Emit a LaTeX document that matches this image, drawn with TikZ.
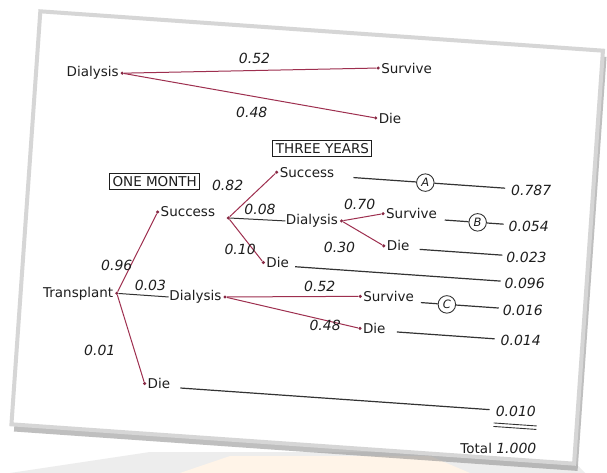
\documentclass[tikz,border=0pt]{standalone}
\usepackage{fontspec}
\setmainfont{DejaVu Sans}
\usetikzlibrary{positioning}
\definecolor{branch}{HTML}{9E2F4F}
\definecolor{outln}{HTML}{333333}
\definecolor{ink}{HTML}{1E1E1E}
\tikzset{
 lbl/.style={font=\fontsize{13.5}{15}\selectfont, text=ink, inner sep=0.5pt},
 num/.style={font=\fontsize{14}{16}\selectfont\itshape, text=ink, inner sep=1pt},
 dotn/.style={circle, fill=branch!85!black, inner sep=0pt, minimum size=3.4pt},
 br/.style={draw=branch, line width=1pt},
 outl/.style={draw=outln, line width=1.2pt},
 boxlbl/.style={draw=ink, line width=1pt, font=\fontsize{13.5}{15}\selectfont, text=ink, inner sep=3pt},
 circ/.style={circle, draw=outln, line width=0.9pt, minimum size=17.5pt, inner sep=0pt, fill=white, font=\fontsize{11.5}{12}\selectfont\itshape, text=ink},
}
\begin{document}
\begin{tikzpicture}[x=1pt,y=-1pt]
\useasboundingbox (0,0) rectangle (607,473);
\fill[white] (0,0) rectangle (607,473);
% things behind the sheet
\fill[gray!14] (10,473) -- (150,452) -- (565,452) -- (585,473) -- cycle;
\fill[orange!9] (180,473) -- (230,456) -- (430,456) -- (470,473) -- cycle;
\begin{scope}[rotate around={-4:(300,240)}]
% sheet
\fill[black!45, opacity=0.55] (28,36) rectangle (593,451);
\filldraw[fill=white, draw=gray!32, line width=4pt] (25,30) rectangle (589,444);

% ---- top tree: dialysis only ----
\node[dotn] (dA) at (111,86) {};
\node[lbl, left=1pt of dA] (tdA) {Dialysis};
\node[dotn] (sA) at (366,63) {};
\node[lbl, right=0.5pt of sA] (tsA) {Survive};
\node[dotn] (xA) at (367,113) {};
\node[lbl, right=0.5pt of xA] (txA) {Die};
\draw[br] (dA) -- (sA);
\draw[br] (dA) -- (xA);
\node[num] (p052a) at (242,62) {0.52};
\node[num] (p048a) at (243,116) {0.48};

% ---- stage boxes ----
\node[boxlbl] (three) at (316,147) {THREE YEARS};
\node[boxlbl] (one) at (151,192) {ONE MONTH};

% ---- transplant tree ----
\node[dotn] (T) at (121,306) {};
\node[lbl, left=1pt of T] (tT) {Transplant};

\node[dotn] (S1) at (156,222) {};
\node[lbl, right=0.5pt of S1] (tS1) {Success};
\node[dotn] (B1) at (227,223) {};
\draw[br] (T) -- (S1);
\node[num] (p096) at (119,278) {0.96};

% after one-month success
\node[dotn] (S3) at (272,174) {};
\node[lbl, right=0.5pt of S3] (tS3) {Success};
\draw[br] (B1) -- (S3);
\node[num] (p082) at (224,191) {0.82};

\node[lbl, anchor=west] (tD2) at (284,222) {Dialysis};
\node[dotn, right=1pt of tD2] (D2) {};
\draw[outl, line width=1pt] (B1) -- (tD2.west);
\node[num] (p008) at (258,212) {0.08};

\node[dotn] (X1) at (265,265) {};
\node[lbl, right=0.5pt of X1] (tX1) {Die};
\draw[br] (B1) -- (X1);
\node[num] (p010) at (241,254) {0.10};

% dialysis after transplant success
\node[dotn] (S2) at (381,208) {};
\node[lbl, right=0.5pt of S2] (tS2) {Survive};
\node[dotn] (X2) at (384,240) {};
\node[lbl, right=0.5pt of X2] (tX2) {Die};
\draw[br] (D2) -- (S2);
\draw[br] (D2) -- (X2);
\node[num] (p070) at (357,200) {0.70};
\node[num] (p030) at (340,245) {0.30};

% dialysis after transplant failure
\node[lbl, anchor=west] (tD3) at (173,306) {Dialysis};
\node[dotn, right=1pt of tD3] (D3) {};
\draw[outl, line width=1pt] (T) -- (tD3.west);
\node[num] (p003) at (154,296) {0.03};
\node[dotn] (S4) at (364,292) {};
\node[lbl, right=0.5pt of S4] (tS4) {Survive};
\node[dotn] (X3) at (366,324) {};
\node[lbl, right=0.5pt of X3] (tX3) {Die};
\draw[br] (D3) -- (S4);
\draw[br] (D3) -- (X3);
\node[num] (p052b) at (323,285) {0.52};
\node[num] (p048b) at (331,323) {0.48};

% die at transplant
\node[dotn] (X4) at (155,394) {};
\node[lbl, right=0.5pt of X4] (tX4) {Die};
\draw[br] (T) -- (X4);
\node[num] (p001) at (108,364) {0.01};

% ---- outcome lines and probabilities ----
\coordinate (aS) at (349,174);
\node[circ] (cA) at (421,174) {A};
\coordinate (aE) at (501,174);
\draw[outl] (aS) -- (cA) -- (aE);
\node[num, anchor=west] (nA) at (506,176) {0.787};

\coordinate (bS) at (443,210);
\node[circ] (cB) at (476,210) {B};
\coordinate (bE) at (502,210);
\draw[outl] (bS) -- (cB) -- (bE);
\node[num, anchor=west] (nB) at (506,212) {0.054};

\coordinate (x2S) at (420,241);
\coordinate (x2E) at (503,241);
\draw[outl] (x2S) -- (x2E);
\node[num, anchor=west] (nX2) at (506,243) {0.023};

\coordinate (x1S) at (297,267);
\coordinate (x1E) at (503,267);
\draw[outl] (x1S) -- (x1E);
\node[num, anchor=west] (nX1) at (506,269) {0.096};

\coordinate (cS) at (425,294);
\node[circ] (cC) at (451,294) {C};
\coordinate (cE) at (503,294);
\draw[outl] (cS) -- (cC) -- (cE);
\node[num, anchor=west] (nC) at (506,296) {0.016};

\coordinate (x3S) at (403,325);
\coordinate (x3E) at (501,325);
\draw[outl] (x3S) -- (x3E);
\node[num, anchor=west] (nX3) at (506,326) {0.014};

\coordinate (x4S) at (191,396);
\coordinate (x4E) at (501,396);
\draw[outl] (x4S) -- (x4E);
\node[num, anchor=west] (nX4) at (506,397) {0.010};

\coordinate (t1) at (506,409);
\coordinate (t2) at (549,409);
\coordinate (t3) at (506,412.5);
\coordinate (t4) at (549,412.5);
\draw[outl, line width=0.9pt] (t1) -- (t2);
\draw[outl, line width=0.9pt] (t3) -- (t4);
\node[lbl, anchor=east] (tot) at (551,431) {Total \fontsize{14}{16}\selectfont\itshape 1.000};
\end{scope}
\end{tikzpicture}
\end{document}
